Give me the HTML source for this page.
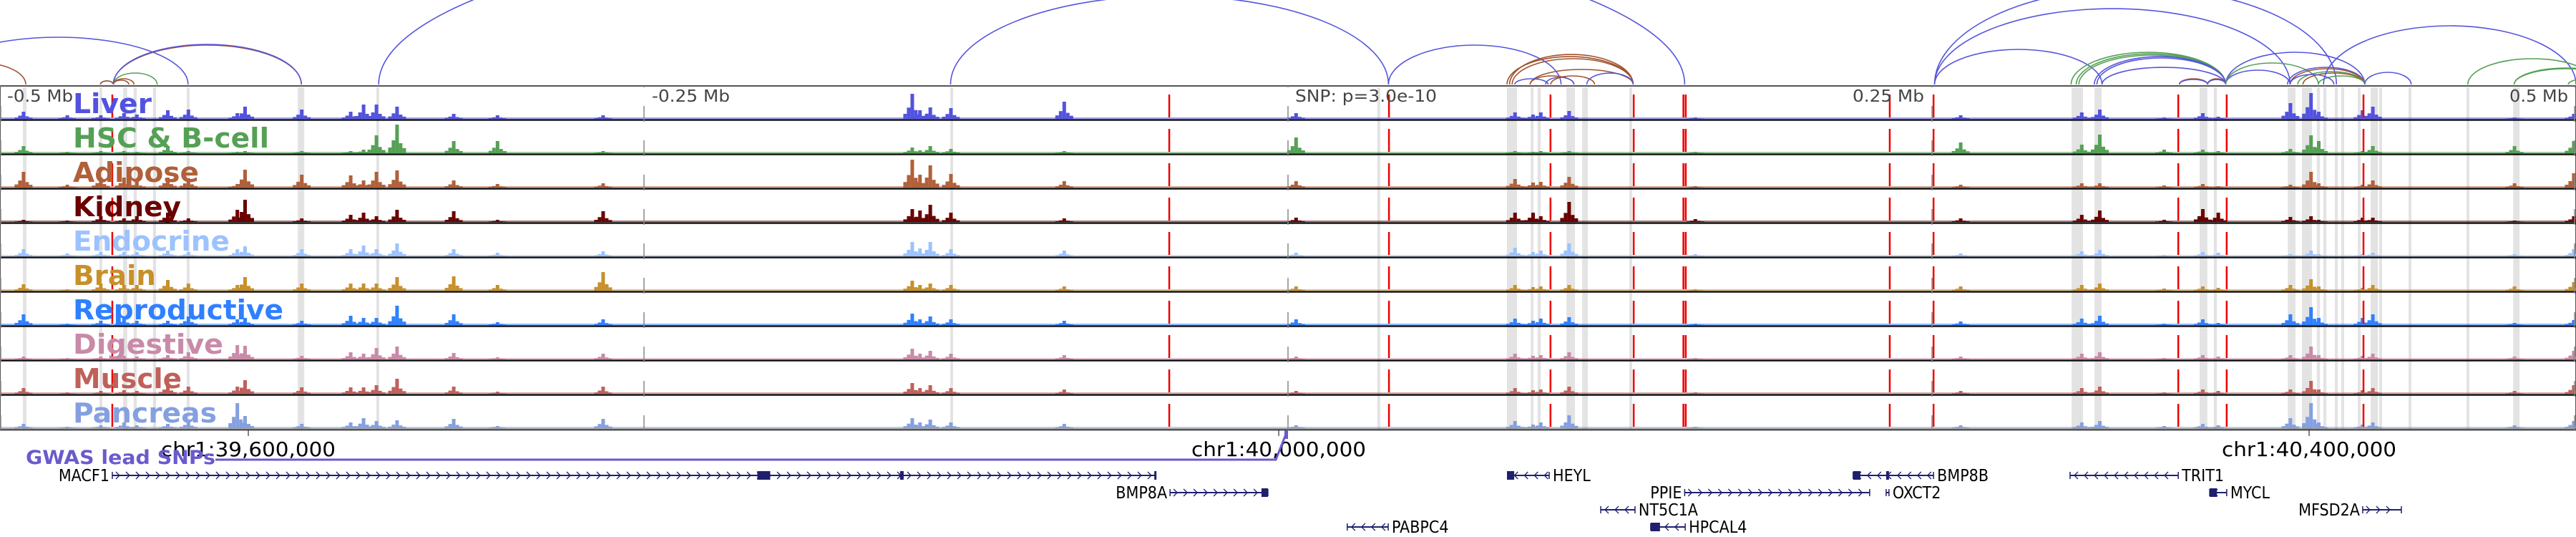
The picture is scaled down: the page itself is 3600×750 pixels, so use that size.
<!DOCTYPE html>
<html><head><meta charset="utf-8"><title>Regional chromatin accessibility and chromatin loops around a chr1 GWAS SNP</title>
<style>
html,body{margin:0;padding:0;background:#fff;}
svg{display:block;font-family:"DejaVu Sans Condensed","Liberation Sans",sans-serif;}
</style></head>
<body>
<svg id="chart" width="3600" height="750" viewBox="0 0 3600 750" xmlns="http://www.w3.org/2000/svg">
<g id="bands"></g>
<g id="arcs"></g>
<g id="tracks"></g>
<g id="grid"></g>
<g id="reds"></g>
<g id="labels"></g>
<g id="axis"></g>
<g id="genes"></g>
</svg>
<script>
// ---- data (positions in kb relative to lead SNP) ----
const tissues = ["Liver","HSC & B-cell","Adipose","Kidney","Endocrine","Brain","Reproductive","Digestive","Muscle","Pancreas"];
const tissueColors = ["#5252e0","#55a055","#b0603a","#6b0000","#9cc2ff","#c8902a","#2f80ff","#c98aa8","#c0605a","#85a0e0"];
const peakKb = [-491,-474,-461,-452,-447,-435,-427,-408,-405,-383,-364,-359,-354,-346,-324,-307,-266,-146,-143,-139,-131,-87,3,88,95,98,109,158,261,308,315,355,361,389,397,400,417,421,499,476,340];
const liverVals = [10,5,5,8,6,12,13,8,17,13,10,20,20,17,7,5,5,35,12,16,15,24,8,9,6,9,11,2,5,9,13,8,3,22,36,10,12,17,7,2,2];
const hscVals = [10,2,3,3,2,10,3,2,3,3,3,5,25,40,17,17,3,8,4,10,6,3,22,3,2,3,3,2,15,12,26,5,3,6,25,17,3,10,17,10,5];
const adiposeVals = [22,4,14,14,8,14,13,5,25,18,17,10,22,24,10,5,6,39,18,31,19,9,9,12,7,8,15,2,4,6,6,5,2,4,22,6,4,10,20,6,3];
const kidneyVals = [3,2,8,5,8,13,5,17,31,5,10,13,8,17,15,3,15,18,16,24,13,5,6,13,13,8,28,4,5,10,16,18,13,7,8,3,6,6,8,2,3];
const endocrineVals = [10,4,6,6,6,8,6,10,14,10,10,15,10,18,10,5,7,20,11,20,10,8,5,12,6,8,18,3,4,7,9,6,5,3,8,3,3,5,10,3,2];
const brainVals = [9,2,10,8,8,15,10,8,19,10,10,10,10,19,20,8,26,14,8,10,8,6,6,8,5,6,8,2,6,8,10,6,4,8,16,6,4,8,12,6,3];
const reproVals = [15,2,6,10,6,6,12,8,10,6,13,10,10,27,15,4,8,16,8,12,8,6,8,9,6,9,11,2,5,9,13,8,3,15,25,10,10,15,7,3,2];
const digestiveVals = [4,2,4,5,4,6,10,20,19,5,10,8,16,18,9,3,8,15,8,12,8,6,4,8,5,6,10,2,4,8,10,6,4,6,18,6,5,8,12,4,2];
const muscleVals = [8,2,4,5,4,13,10,10,19,9,9,9,12,21,10,3,10,15,8,12,8,6,4,8,5,6,10,2,4,8,10,6,4,6,18,6,5,8,12,4,2];
const pancreasVals = [6,2,4,8,4,6,10,35,17,6,8,14,10,11,13,3,13,14,8,12,8,6,4,10,5,8,18,2,4,8,10,6,4,14,35,8,5,8,10,4,3];
const seriesVals = [liverVals,hscVals,adiposeVals,kidneyVals,endocrineVals,brainVals,reproVals,digestiveVals,muscleVals,pancreasVals];
const labelLen = [110,274,176,151,219,116,294,210,152,201];

const arcStart = [-528,-525,-461,-461,-456,-456,-456,-456,-456,-353,-131,39,85,86,87,94,94,88,100,116,102,251,251,251,304,306,307,313,314,316,346,346,357,357,364,364,364,388,389,392,394,400,389,402,418,458,476,476,497];
const arcEnd = [-427,-490,-456,-456,-448,-450,-439,-383,-383,154,39,106,134,134,134,134,111,101,111,134,119,316,389,407,364,364,364,364,364,364,357,357,364,364,389,418,400,418,418,418,418,418,406,500,436,508,517,517,511];
const arcHeight = [66,30,5,5,8,6,16,55,56,228,124,55,39,42,36,21,12,8,10,16,12,49,106,135,45,43,41,39,37,24,8,7,8,7,20,45,30,24,22,18,16,12,14,82,17,36,23,22,8];
const arcTissue = [0,2,0,2,2,2,1,2,0,0,0,0,2,2,2,2,2,0,0,0,2,0,0,0,1,1,1,0,0,0,2,0,2,0,0,0,1,0,2,1,2,1,0,0,0,1,1,1,1];

const bandStart = [-491.1,-461.4,-452.2,-448.1,-440.6,-427.5,-384.4,-353.9,-131.1,34.7,85,94.2,96.9,108.1,114.2,132.5,304.2,313.1,353.9,359.4,388.1,393.6,399.4,401.9,406.4,408.9,415.3,420.3,423.6,435,457.5,475.6];
const bandEnd = [-489.7,-460.3,-450.6,-446.9,-439.4,-426.4,-381.9,-352.8,-130,35.8,88.9,95.3,98.1,111.4,116.4,133.6,308.6,315.8,356.9,360.6,391.1,397.5,400.6,403.1,407.5,410,416.4,423.1,424.7,436.1,458.6,478.1];

const snpKb = [-456.4,-46.1,39.2,101.9,134.2,153.5,154.4,233.6,250.6,345.6,364.4,417.5];

const axisTickKb = [-500,-250,0,250,500];
const axisTickLabels = ["-0.5 Mb","-0.25 Mb","SNP: p=3.0e-10","0.25 Mb","0.5 Mb"];
const chrTickKb = [-403.6,-3.6,396.4];
const chrTickLabels = ["chr1:39,600,000","chr1:40,000,000","chr1:40,400,000"];

const geneNames = ["MACF1","BMP8A","PABPC4","HEYL","PPIE","NT5C1A","HPCAL4","OXCT2","BMP8B","TRIT1","MYCL","MFSD2A"];
const geneStart = [-456.4,-45.8,23,86.2,154,121.4,140.8,232.2,219.4,303.6,357.8,417.2];
const geneEnd = [-51.4,-7.8,38.9,101.4,225.8,134.7,154.2,233.3,250.6,345.6,364.4,432.2];
const geneStrand = [1,1,-1,-1,1,-1,-1,1,-1,-1,-1,1];
const geneRow = [0,1,3,0,1,2,3,1,0,0,1,2];
const geneLabelLeft = [1,1,0,0,1,0,0,0,0,0,0,1];
const exonStart = [-206,-150.6,-10.3,85,140.8,232.2,219.4,357.8,-51.9];
const exonEnd = [-201,-149.2,-7.8,87.8,144.4,233.3,222.2,360.6,-51.4];

// ---- scales ----
const X = kb => 1800 + kb*3.6;
const trackTop = i => 120 + i*48;
const Y = (i, v) => trackTop(i) + 46 - v;
const rowY = r => 664 + r*24;
const NS = "http://www.w3.org/2000/svg";
function mk(tag, attrs, parent){const e=document.createElementNS(NS,tag);for(const k in attrs)e.setAttribute(k,attrs[k]);parent.appendChild(e);return e;}

// bands
const gB = document.getElementById('bands');
bandStart.forEach((s,i)=>{
  const r = mk('rect',{x:X(s),y:122,width:Math.max(3,X(bandEnd[i])-X(s)),height:478,fill:'#e3e3e3'},gB);
  
  
});

// arcs
const gA = document.getElementById('arcs');
arcStart.forEach((s,i)=>{
  const x1=X(s), x2=X(arcEnd[i]);
  const p = mk('path',{d:`M${x1},118 A${(x2-x1)/2},${arcHeight[i]} 0 0 1 ${x2},118`,fill:'none',stroke:['#5555dd','#55a055','#a0522d'][arcTissue[i]],'stroke-width':1.6},gA);
  
  
});

// tracks
const gT = document.getElementById('tracks');
mk('rect',{x:0,y:120,width:3600,height:480,fill:'none',stroke:'#555','stroke-width':2},gT);
tissues.forEach((t,i)=>{
  const g = mk('g',{},gT);
  
  
  const c = tissueColors[i];
  mk('rect',{x:0,y:trackTop(i)+44,width:3600,height:2,fill:c,opacity:0.55},g);
  peakKb.forEach((k,j)=>{
    const v = seriesVals[i][j], x = X(k);
    const b = mk('rect',{x:x-2,y:Y(i,v),width:5,height:v,fill:c},g);
    
    
    mk('rect',{x:x-7,y:Y(i,v*0.45),width:5,height:v*0.45,fill:c},g);
    mk('rect',{x:x+3,y:Y(i,v*0.35),width:5,height:v*0.35,fill:c},g);
    mk('rect',{x:x-12,y:Y(i,v*0.2),width:5,height:v*0.2,fill:c},g);
    mk('rect',{x:x+8,y:Y(i,v*0.18),width:5,height:v*0.18,fill:c},g);
  });
  if(i<9) mk('line',{x1:0,x2:3600,y1:trackTop(i)+47.5,y2:trackTop(i)+47.5,stroke:'#111','stroke-width':2.5},g);
});
mk('line',{x1:0,x2:3600,y1:600,y2:600,stroke:'#555','stroke-width':3},gT);
mk('line',{x1:0,x2:3600,y1:120,y2:120,stroke:'#555','stroke-width':2},gT);

// grid ticks
const gG = document.getElementById('grid');
axisTickKb.forEach(k=>{
  const l = mk('line',{x1:Math.min(3598,Math.max(1,X(k))),x2:Math.min(3598,Math.max(1,X(k))),y1:120,y2:600,stroke:'#888','stroke-width':1.5,'stroke-dasharray':'22 26','stroke-dashoffset':'-28'},gG);
  
  
});

// red SNP lines
const gR = document.getElementById('reds');
snpKb.forEach(k=>{
  const l = mk('line',{x1:X(k),x2:X(k),y1:122,y2:600,stroke:'#ee0000','stroke-width':2.5,'stroke-dasharray':'32 16','stroke-dashoffset':'-10'},gR);
  
  
});

// track labels
const gL = document.getElementById('labels');
tissues.forEach((t,i)=>{
  const tx = mk('text',{x:102,y:trackTop(i)+38,'font-size':38,'font-weight':'bold',fill:tissueColors[i],textLength:labelLen[i],lengthAdjust:'spacingAndGlyphs'},gL);
  tx.textContent = t;
  
  
});

// axis labels
const gX = document.getElementById('axis');
const axLen=[92,109,198,100,82];
axisTickKb.forEach((k,i)=>{
  let x = X(k), anchor='start';
  if(k<=-500) x=10; else if(k<0) x=X(k)+11; else if(k===0) x=X(k)+10; else {x=X(k)-11; anchor='end';}
  const tx = mk('text',{x:x,y:142,'font-size':23,fill:'#444','text-anchor':anchor,textLength:axLen[i],lengthAdjust:'spacingAndGlyphs'},gX);
  tx.textContent = axisTickLabels[i];
  
  
});
chrTickKb.forEach((k,i)=>{
  mk('line',{x1:X(k),x2:X(k),y1:600,y2:609,stroke:'#333','stroke-width':1.2},gX);
  const tx = mk('text',{x:X(k),y:637,'font-size':28,fill:'#000','text-anchor':'middle',textLength:244,lengthAdjust:'spacingAndGlyphs'},gX);
  tx.textContent = chrTickLabels[i];
  
  
});
// GWAS lead SNP track
const gw = mk('polyline',{points:`301,642 1783,642 1798,604`,fill:'none',stroke:'#6a5acd','stroke-width':3},gX);


mk('rect',{x:1795,y:601,width:5,height:12,fill:'#6a5acd'},gX);
const gt = mk('text',{x:36,y:648,'font-size':27,'font-weight':'bold',fill:'#6a5acd',textLength:265,lengthAdjust:'spacingAndGlyphs'},gX);
gt.textContent='GWAS lead SNPs';



// genes
const gN = document.getElementById('genes');
const navy='#1f1f6e';
geneNames.forEach((n,i)=>{
  const g = mk('g',{},gN);
  
  
  const y=rowY(geneRow[i]), x1=X(geneStart[i]), x2=X(geneEnd[i]);
  mk('line',{x1:x1,x2:x2,y1:y,y2:y,stroke:navy,'stroke-width':2},g);
  mk('line',{x1:x1,x2:x1,y1:y-5,y2:y+5,stroke:navy,'stroke-width':1.5},g);
  mk('line',{x1:x2,x2:x2,y1:y-5,y2:y+5,stroke:navy,'stroke-width':1.5},g);
  for(let x=x1+8;x<x2-4;x+=14){
    const d = geneStrand[i]>0 ? `M${x-3},${y-5} L${x+2},${y} L${x-3},${y+5}` : `M${x+3},${y-5} L${x-2},${y} L${x+3},${y+5}`;
    mk('path',{d:d,fill:'none',stroke:navy,'stroke-width':1.3},g);
  }
  const tx = mk('text',{x:geneLabelLeft[i]?x1-4:x2+5,y:y+8,'font-size':23,fill:'#000','text-anchor':geneLabelLeft[i]?'end':'start'},g);
  tx.textContent=n;
  
  
});
exonStart.forEach((s,i)=>{
  let r=0; geneStart.forEach((gs,j)=>{ if(s>=gs-1 && exonEnd[i]<=geneEnd[j]+1) r=geneRow[j]; });
  const e = mk('rect',{x:X(s),y:rowY(r)-6,width:Math.max(3,X(exonEnd[i])-X(s)),height:12,fill:navy},gN);
  
  
});
</script>
</body></html>
